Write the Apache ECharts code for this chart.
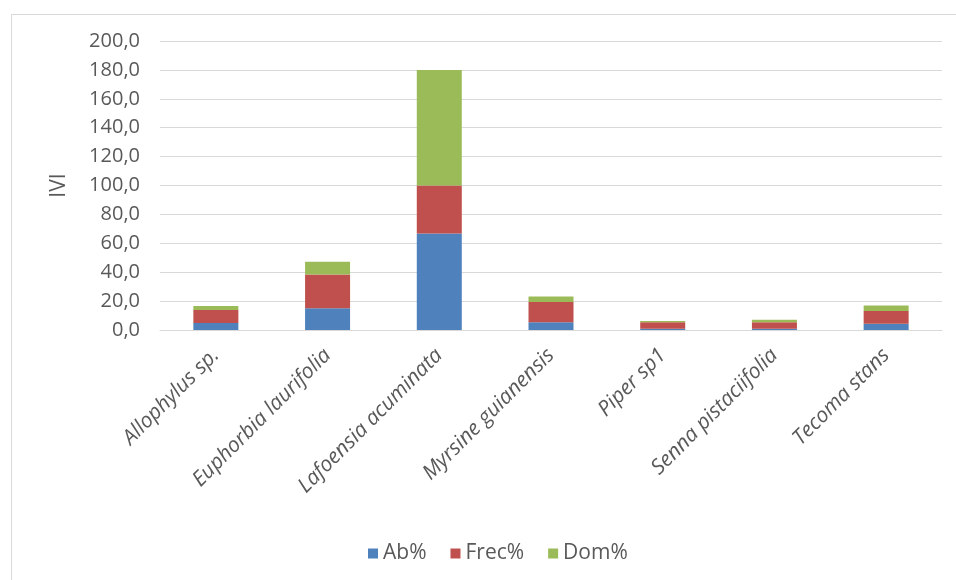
<!DOCTYPE html>
<html>
<head>
<meta charset="utf-8">
<script src="https://cdn.jsdelivr.net/npm/echarts@6/dist/echarts.min.js"></script>
<style>html,body{margin:0;padding:0;background:#fff;}#c{width:956px;height:580px;}</style>
</head>
<body>
<div id="c"></div>
<script>
const categories = ['Allophylus sp.', 'Euphorbia laurifolia', 'Lafoensia acuminata', 'Myrsine guianensis', 'Piper sp1', 'Senna pistaciifolia', 'Tecoma stans'];
const abValues = [4.8, 15.1, 66.7, 5.3, 0.9, 0.9, 4.4];
const frecValues = [9.0, 23.3, 33.3, 14.1, 4.4, 4.4, 8.8];
const domValues = [2.8, 8.8, 80.0, 3.7, 1.0, 1.8, 3.7];
const seriesNames = ['Ab%', 'Frec%', 'Dom%'];
const yAxisName = 'IVI';

const chart = echarts.init(document.getElementById('c'), null, {renderer: 'canvas'});
const font = '"Open Sans", sans-serif';
const mk = (name, data, color) => ({
  name, type: 'bar', stack: 'ivi', data, barWidth: 45,
  itemStyle: {color}, emphasis: {disabled: true}
});
chart.setOption({
  animation: false,
  graphic: [{type: 'rect', left: 9, top: 12, shape: {width: 1000, height: 620}, style: {fill: 'none', stroke: '#d9d9d9', lineWidth: 1}, silent: true}],
  grid: {left: 160, right: 14, top: 41, bottom: 250},
  legend: {
    data: seriesNames, left: 363, top: 538, itemWidth: 10, itemHeight: 10, itemGap: 24,
    icon: 'rect', textStyle: {fontFamily: font, fontSize: 21, color: '#595959'}
  },
  xAxis: {
    type: 'category', data: categories,
    axisLine: {lineStyle: {color: '#d9d9d9'}}, axisTick: {show: false},
    axisLabel: {rotate: 45, interval: 0, margin: 22, fontFamily: font, fontStyle: 'italic', fontSize: 21, color: '#595959'}
  },
  yAxis: {
    type: 'value', min: 0, max: 200, interval: 20,
    name: yAxisName, nameLocation: 'middle', nameGap: 90, nameRotate: 90,
    nameTextStyle: {fontFamily: font, fontSize: 21, color: '#595959'},
    axisLine: {show: false}, axisTick: {show: false},
    splitLine: {lineStyle: {color: '#d9d9d9'}},
    axisLabel: {fontFamily: font, fontSize: 20, color: '#595959', margin: 20, formatter: v => v.toFixed(1).replace('.', ',')}
  },
  series: [mk(seriesNames[0], abValues, '#4f81bd'), mk(seriesNames[1], frecValues, '#c0504d'), mk(seriesNames[2], domValues, '#9bbb59')]
});
</script>
</body>
</html>
